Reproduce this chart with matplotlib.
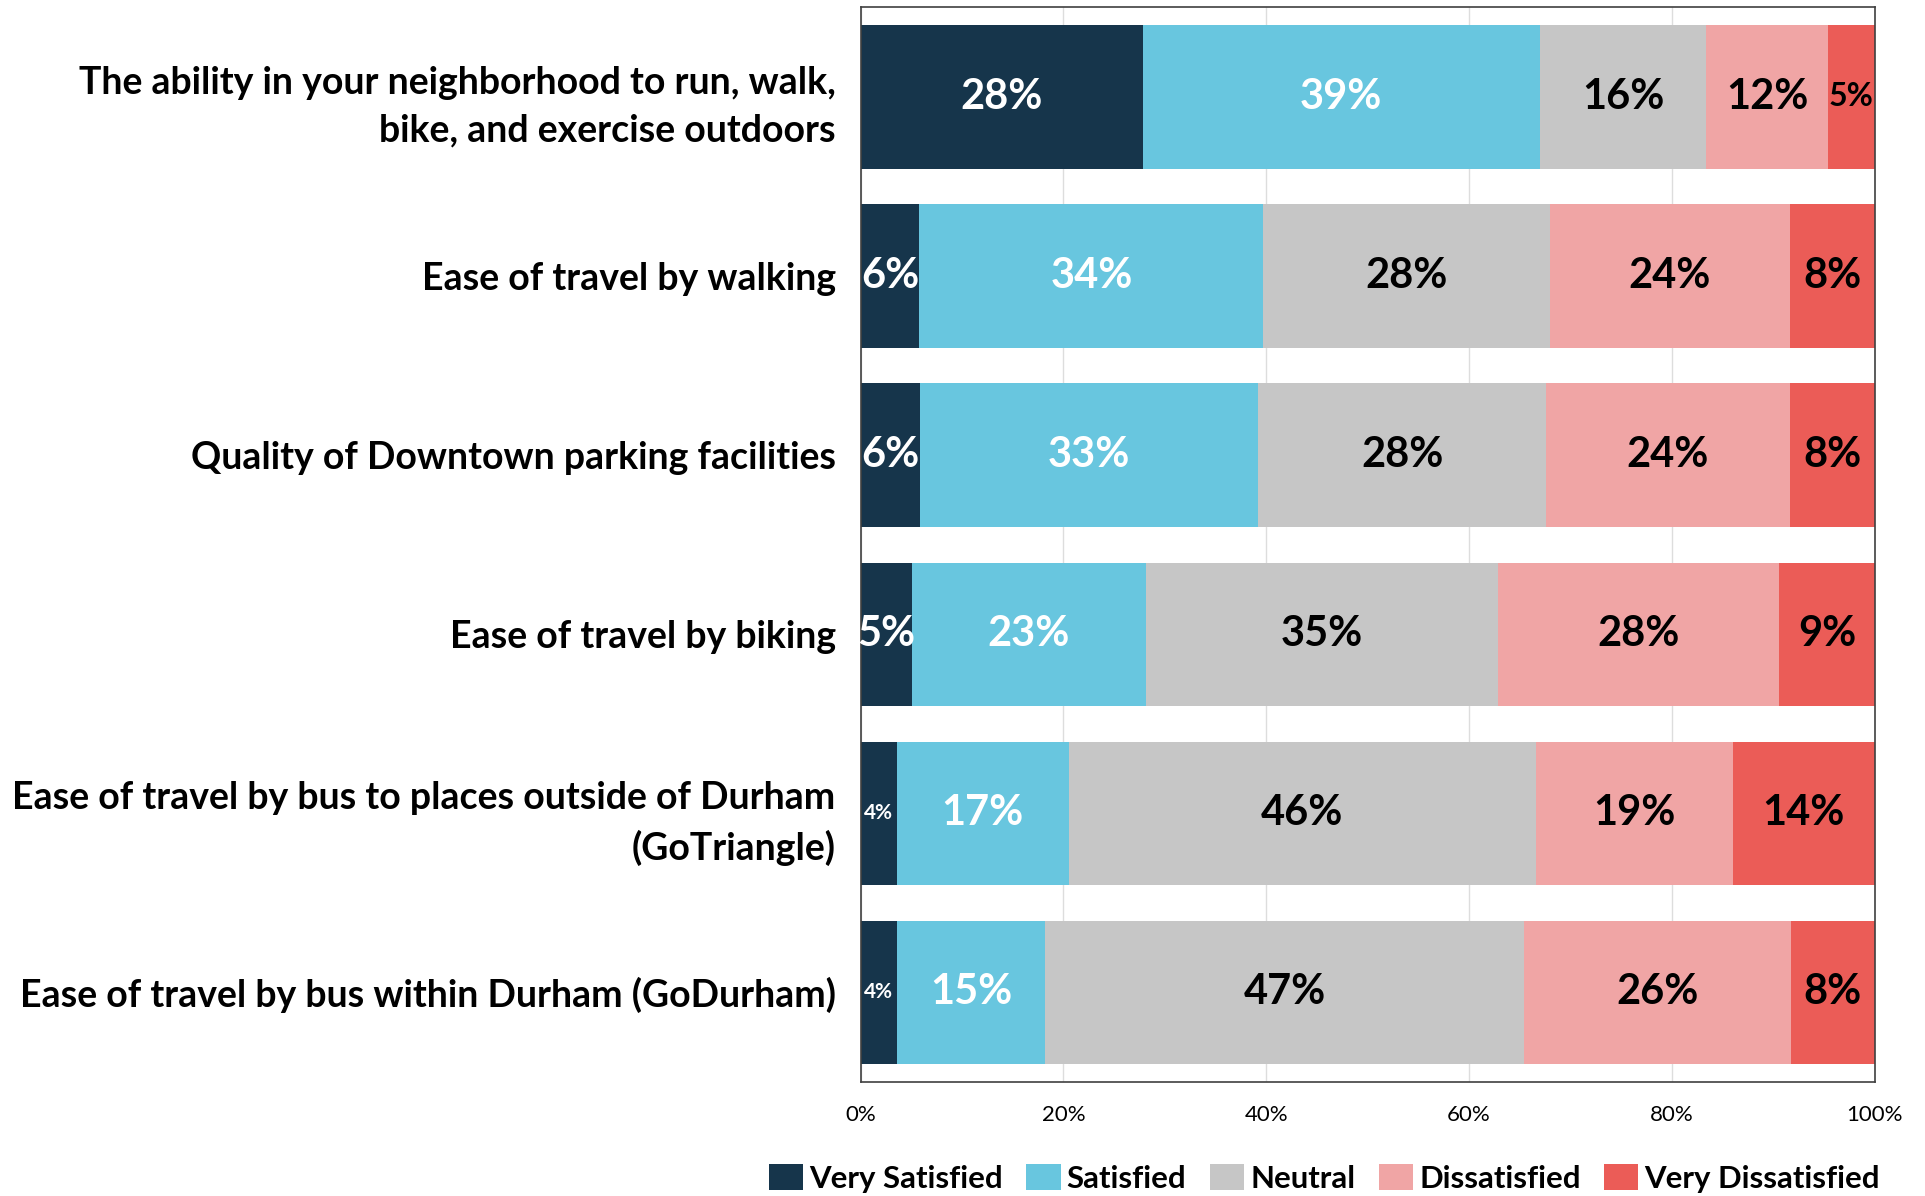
import matplotlib.pyplot as plt
import numpy as np

# Dados da pesquisa (percentuais)
categorias = [
    "The ability in your neighborhood to run, walk,\nbike, and exercise outdoors",
    "Ease of travel by walking",
    "Quality of Downtown parking facilities",
    "Ease of travel by biking",
    "Ease of travel by bus to places outside of Durham\n(GoTriangle)",
    "Ease of travel by bus within Durham (GoDurham)",
]
respostas = ["Very Satisfied", "Satisfied", "Neutral", "Dissatisfied", "Very Dissatisfied"]

muito_satisfeito = [27.8, 5.8, 5.9, 5.1, 3.6, 3.6]
satisfeito = [39.2, 33.9, 33.3, 23.0, 16.9, 14.6]
neutro = [16.4, 28.3, 28.4, 34.7, 46.1, 47.2]
insatisfeito = [12.0, 23.6, 24.0, 27.8, 19.4, 26.3]
muito_insatisfeito = [4.6, 8.4, 8.4, 9.4, 14.0, 8.3]

series = [muito_satisfeito, satisfeito, neutro, insatisfeito, muito_insatisfeito]
cores = ["#16354B", "#68C6DF", "#C6C6C6", "#F0A5A5", "#EB5C57"]
cores_texto = ["white", "white", "black", "black", "black"]

plt.rcParams['font.family'] = ['Lato', 'DejaVu Sans']

fig = plt.figure(figsize=(19.25, 11.96), dpi=100)
ax = fig.add_axes([0.4471, 0.0955, 0.5268, 0.8983])

y = np.arange(len(categorias))
esquerda = np.zeros(len(categorias))
for valores, cor, cor_txt, nome in zip(series, cores, cores_texto, respostas):
    valores = np.array(valores)
    barras = ax.barh(y, valores, left=esquerda, height=0.8, color=cor, label=nome, zorder=2)
    textos = ax.bar_label(barras, labels=[f"{round(v)}%" for v in valores],
                          label_type='center', color=cor_txt, fontweight='bold', fontsize=30)
    for t, v in zip(textos, valores):
        if v < 4:
            t.set_fontsize(15)
        elif v < 5:
            t.set_fontsize(23)
    esquerda += valores

ax.set_xlim(0, 100)
ax.set_ylim(len(categorias) - 0.5, -0.5)
ax.set_yticks(y)
ax.set_yticklabels(categorias, fontsize=27, fontweight='bold', linespacing=1.5)
ax.set_xticks(np.arange(0, 101, 20))
ax.set_xticklabels([f"{v}%" for v in range(0, 101, 20)], fontsize=16)
ax.tick_params(axis='y', length=0, pad=18)
ax.tick_params(axis='x', length=0, pad=17)
ax.grid(axis='x', color='#DDDDDD', linewidth=1, zorder=0)
for s in ax.spines.values():
    s.set_color('#404040')
    s.set_linewidth(1.2)

fig.legend(loc='center', bbox_to_anchor=(0.688, 0.0144), ncol=5, frameon=False,
           prop={'size': 22.4, 'weight': 'bold'}, handlelength=1.1, handleheight=0.9,
           handletextpad=0.2, columnspacing=0.75)

plt.savefig('out.png', dpi=100)
